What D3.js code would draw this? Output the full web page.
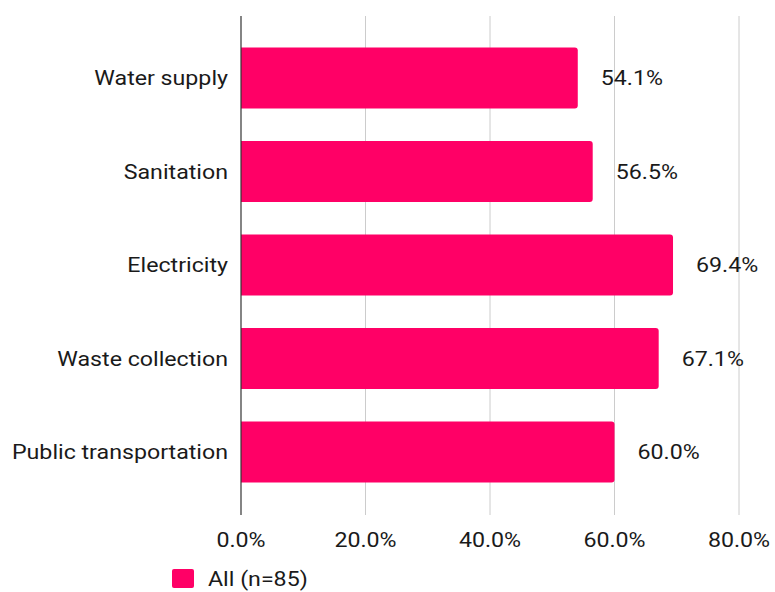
<!DOCTYPE html>
<html>
<head>
<meta charset="utf-8">
<script src="https://cdn.jsdelivr.net/npm/d3@7"></script>
<style>
  html, body { margin: 0; padding: 0; background: #fff; }
  text { font-family: Roboto, "Noto Sans", sans-serif; fill: #1a1a1a; }
</style>
</head>
<body>
<svg id="chart" width="775" height="592"></svg>
<script>
const categories = ["Water supply", "Sanitation", "Electricity", "Waste collection", "Public transportation"];
const values = [54.1, 56.5, 69.4, 67.1, 60.0];
const tickValues = [0, 20, 40, 60, 80];
const seriesName = "All (n=85)";
const barColor = "#ff0066";
const fontSize = 20;
const stretch = 1.16; // wide text rendering

const svg = d3.select("#chart");

const x = d3.scaleLinear().domain([0, 80]).range([241, 739]);
const y = d3.scaleBand().domain(categories).range([31.25, 498.75]).paddingInner(0.35).paddingOuter(0.175);

const plotTop = 16, plotBottom = 515;

// place a text at (tx, ty) with horizontal stretch
const place = (tx, ty) => `translate(${tx},${ty}) scale(${stretch},1)`;

// gridlines
svg.append("g").selectAll("line")
  .data(tickValues.filter(d => d > 0))
  .join("line")
  .attr("x1", d => x(d)).attr("x2", d => x(d))
  .attr("y1", plotTop).attr("y2", plotBottom)
  .attr("stroke", "#cccccc").attr("stroke-width", 1);

// bars with slightly rounded right ends
const r = 3;
svg.append("g").selectAll("path")
  .data(categories)
  .join("path")
  .attr("fill", barColor)
  .attr("d", (c, i) => {
    const x0 = x(0), x1 = x(values[i]);
    const y0 = y(c), h = y.bandwidth();
    return `M${x0},${y0} H${x1 - r} Q${x1},${y0} ${x1},${y0 + r} V${y0 + h - r} Q${x1},${y0 + h} ${x1 - r},${y0 + h} H${x0} Z`;
  });

// zero axis line
svg.append("line")
  .attr("x1", x(0)).attr("x2", x(0))
  .attr("y1", plotTop).attr("y2", plotBottom)
  .attr("stroke", "#333").attr("stroke-width", 1.2);

// value labels
svg.append("g").selectAll("text")
  .data(categories)
  .join("text")
  .attr("transform", (c, i) => place(x(values[i]) + 23, y(c) + y.bandwidth() / 2))
  .attr("dy", "0.35em")
  .attr("font-size", fontSize)
  .text((c, i) => values[i].toFixed(1) + "%");

// category labels
svg.append("g").selectAll("text")
  .data(categories)
  .join("text")
  .attr("transform", c => place(228, y(c) + y.bandwidth() / 2))
  .attr("dy", "0.35em")
  .attr("text-anchor", "end")
  .attr("font-size", fontSize)
  .text(c => c);

// x tick labels
svg.append("g").selectAll("text")
  .data(tickValues)
  .join("text")
  .attr("transform", d => place(x(d), 540))
  .attr("dy", "0.35em")
  .attr("text-anchor", "middle")
  .attr("font-size", fontSize)
  .text(d => d3.format(".1f")(d) + "%");

// legend
const legend = svg.append("g").attr("transform", "translate(172,569)");
legend.append("rect").attr("width", 22).attr("height", 19).attr("rx", 2).attr("fill", barColor);
legend.append("text").attr("transform", place(36, 10)).attr("dy", "0.35em").attr("font-size", fontSize).text(seriesName);
</script>
</body>
</html>
